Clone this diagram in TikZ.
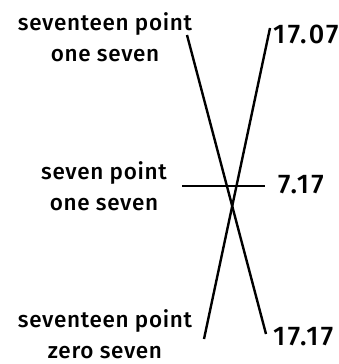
\documentclass[tikz,border=0pt]{standalone}
\usepackage{fontspec}
\setmainfont{Fira Sans Medium}
\newfontfamily\numfont{Fira Sans Medium}[LetterSpace=9]
\newfontfamily\wordfont{Fira Sans Medium}[LetterSpace=3]
\usetikzlibrary{positioning}
\begin{document}
\begin{tikzpicture}[x=1pt, y=-1pt,
    every node/.style={inner sep=0pt},
    word/.style={align=center, font=\wordfont\fontsize{22.5}{31}\selectfont},
    num/.style={anchor=base west, font=\numfont\fontsize{27}{31}\selectfont},
    match/.style={line width=2.4pt, black}
]
    \useasboundingbox (0,0) rectangle (338,364);
    % words on the left
    \node[word] (w1) at (105,37)  {seventeen point\\one seven};
    \node[word] (w2) at (104,186) {seven point\\one seven};
    \node[word] (w3) at (105,334) {seventeen point\\zero seven};
    % numbers on the right
    \node[num] (n1) at (273,43)  {17.07};
    \node[num] (n2) at (278,193) {7.17};
    \node[num] (n3) at (273,345) {17.17};
    % line ends
    \coordinate (w1e) at (187,35);
    \coordinate (n3e) at (266,334);
    \coordinate (n1e) at (270,28);
    \coordinate (w3e) at (204,339);
    \coordinate (w2e) at (182,186);
    \coordinate (n2e) at (265,186);
    \draw[match] (w1e) -- (n3e);
    \draw[match] (n1e) -- (w3e);
    \draw[match] (w2e) -- (n2e);
\end{tikzpicture}
\end{document}
